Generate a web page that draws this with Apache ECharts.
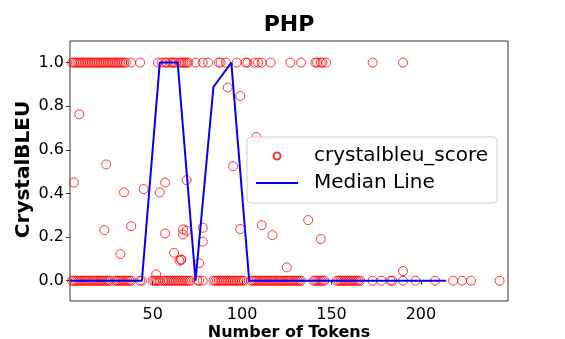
<!DOCTYPE html>
<html>
<head>
<meta charset="utf-8">
<script src="https://cdn.jsdelivr.net/npm/echarts@6/dist/echarts.min.js"></script>
<style>
  html, body { margin: 0; padding: 0; background: #fff; }
  #chart { width: 565px; height: 339px; }
</style>
</head>
<body>
<div id="chart"></div>
<script>
// tokens of samples that scored 0
var zeroTokens = [5, 6, 7, 8, 9, 10, 11, 12, 13, 14, 15, 16, 17, 18, 19, 20, 21, 22, 23, 24, 25, 26,
    29, 30, 31, 32, 33, 34, 35, 36, 37, 38, 43, 44, 50, 51, 52, 53, 54,
    56, 57, 58, 59, 60, 61, 62, 63, 64, 65, 66, 67, 68, 69, 70, 71, 75, 76, 78,
    84, 85, 86, 87, 88, 89, 90, 91, 92, 93, 94, 95, 96, 97, 98, 99, 100, 101,
    105, 106, 107, 108, 109, 110, 111, 112, 113, 114, 115, 116, 117, 118, 119, 120, 121, 122,
    123, 124, 125, 126, 127, 128, 129, 130, 131, 132, 133,
    140, 141, 142, 143, 144, 145, 146, 153, 154, 155, 156, 157, 158, 159, 160, 161, 162, 163, 164, 165, 166,
    173, 178, 183, 184, 190, 197, 208, 218, 223, 228, 244];
// tokens of samples that scored 1
var oneTokens = [5, 6, 7, 8, 9, 10, 11, 12, 13, 14, 15, 16, 17, 18, 19, 20, 21, 22, 23, 24, 25, 26, 27, 28,
    29, 30, 31, 32, 33, 34, 35, 38, 43, 53, 55, 57, 58, 60, 61, 62, 63, 65, 66, 67, 68, 69, 70,
    74, 78, 81, 87, 88, 91, 97, 102, 103, 107, 109, 111, 116, 127, 133, 141, 142, 144, 145, 147, 173, 190];
// remaining samples
var midTokens = [6, 9, 24, 23, 32, 34, 38, 45, 52, 54, 57, 57, 62, 65, 66, 67, 67, 69, 69, 66,
    76, 78, 78, 92, 99, 95, 99, 108, 111, 117, 125, 137, 144, 190];
var midScores = [0.45, 0.763, 0.533, 0.232, 0.122, 0.405, 0.25, 0.42, 0.029, 0.405, 0.45, 0.217, 0.128, 0.092, 0.098, 0.235, 0.212, 0.461, 0.229, 0.095,
    0.08, 0.243, 0.179, 0.886, 0.847, 0.525, 0.237, 0.659, 0.255, 0.209, 0.061, 0.278, 0.191, 0.044];
// median line
var medianTokens = [4, 14, 24, 34, 44, 54, 64, 74, 84, 94, 104, 114, 124, 134, 144, 154, 164, 174, 184, 194, 204, 214];
var medianScores = [0, 0, 0, 0, 0, 1, 1, 0, 0.888, 1, 0, 0, 0, 0, 0, 0, 0, 0, 0, 0, 0, 0];

var yTicks = [0, 0.2, 0.4, 0.6, 0.8, 1.0];
var xTicks = [50, 100, 150, 200];

var scatterData = [];
zeroTokens.forEach(function (t) { scatterData.push([t, 0]); });
oneTokens.forEach(function (t) { scatterData.push([t, 1]); });
midTokens.forEach(function (t, i) { scatterData.push([t, midScores[i]]); });

var medianData = medianTokens.map(function (t, i) { return [t, medianScores[i]]; });

var font = 'DejaVu Sans';

var option = {
    animation: false,
    grid: {
        left: 70, right: 57, top: 41, bottom: 38,
        show: true, borderColor: '#333', borderWidth: 1, backgroundColor: 'transparent'
    },
    graphic: [
        { type: 'text', x: 289, y: 25, style: { text: 'PHP', font: 'bold 22px "DejaVu Sans"', fill: '#000', align: 'center', verticalAlign: 'middle' } },
        { type: 'text', x: 289, y: 333, style: { text: 'Number of Tokens', font: 'bold 16px "DejaVu Sans"', fill: '#000', align: 'center', verticalAlign: 'middle' } },
        { type: 'text', x: 24, y: 169.5, rotation: Math.PI / 2, style: { text: 'CrystalBLEU', font: 'bold 20px "DejaVu Sans"', fill: '#000', align: 'center', verticalAlign: 'middle' } }
    ],
    legend: {
        orient: 'vertical',
        left: 247, top: 137,
        padding: [9, 9, 10, 8],
        itemWidth: 42, itemHeight: 7, itemGap: 7,
        backgroundColor: 'rgba(255,255,255,0.8)',
        borderColor: '#cccccc', borderWidth: 1, borderRadius: 4,
        textStyle: { fontFamily: font, fontSize: 20, lineHeight: 20, color: '#000', padding: [0, 0, 0, 11] },
        data: [
            'crystalbleu_score',
            { name: 'Median Line', itemStyle: { opacity: 0 } }
        ]
    },
    xAxis: {
        type: 'value', min: 3.8, max: 248.7,
        axisLine: { show: false },
        splitLine: { show: false },
        axisTick: { show: true, length: 4, customValues: xTicks, lineStyle: { color: '#333' } },
        axisLabel: { customValues: xTicks, fontFamily: font, fontSize: 16, color: '#000', margin: 6 }
    },
    yAxis: {
        type: 'value', min: -0.093, max: 1.099,
        axisLine: { show: false },
        splitLine: { show: false },
        axisTick: { show: true, length: 4, customValues: yTicks, lineStyle: { color: '#333' } },
        axisLabel: {
            customValues: yTicks, fontFamily: font, fontSize: 16, color: '#000', margin: 6,
            formatter: function (v) { return v.toFixed(1); }
        }
    },
    series: [
        {
            name: 'crystalbleu_score',
            type: 'scatter',
            symbol: 'circle',
            symbolSize: 9,
            itemStyle: { color: 'rgba(0,0,0,0)', borderColor: '#ff0000', borderWidth: 1 },
            data: scatterData,
            z: 2
        },
        {
            name: 'Median Line',
            type: 'line',
            showSymbol: false,
            symbol: 'none',
            color: '#0000ff',
            lineStyle: { color: '#0000ff', width: 2 },
            data: medianData,
            z: 3
        }
    ]
};

var myChart = echarts.init(document.getElementById('chart'));
myChart.setOption(option);
</script>
</body>
</html>
